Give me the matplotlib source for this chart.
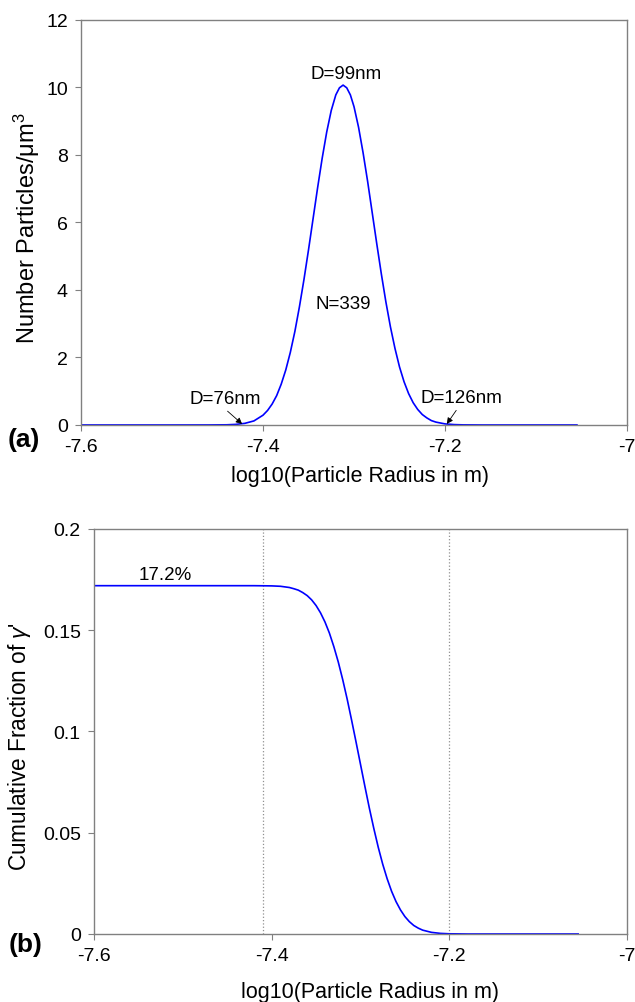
import numpy as np
import matplotlib
matplotlib.use('Agg')
import matplotlib.pyplot as plt

plt.rcParams['font.family'] = ['Liberation Sans', 'DejaVu Sans']
plt.rcParams['mathtext.fontset'] = 'custom'
plt.rcParams['mathtext.rm'] = 'Liberation Sans'
plt.rcParams['mathtext.it'] = 'Liberation Sans:italic'

# (a) number density vs log10 radius
log_r_a = [-7.6, -7.5, -7.46, -7.44, -7.43, -7.42, -7.41, -7.40, -7.395, -7.39,
           -7.385, -7.38, -7.375, -7.37, -7.365, -7.36, -7.355, -7.35, -7.345,
           -7.34, -7.335, -7.33, -7.325, -7.32, -7.316, -7.312, -7.308, -7.304,
           -7.30, -7.295, -7.29, -7.285, -7.28, -7.275, -7.27, -7.265, -7.26,
           -7.255, -7.25, -7.245, -7.24, -7.235, -7.23, -7.225, -7.22, -7.215,
           -7.21, -7.20, -7.19, -7.18, -7.16, -7.12, -7.055]
number = [0.0, 0.0, 0.001, 0.005, 0.017, 0.048, 0.12, 0.29, 0.43, 0.62,
          0.87, 1.21, 1.63, 2.15, 2.77, 3.50, 4.31, 5.19, 6.11,
          7.03, 7.90, 8.68, 9.32, 9.78, 9.99, 10.07, 9.99, 9.78,
          9.43, 8.82, 8.06, 7.21, 6.29, 5.37, 4.48, 3.65, 2.91,
          2.27, 1.72, 1.28, 0.93, 0.66, 0.46, 0.31, 0.21, 0.13,
          0.085, 0.032, 0.011, 0.003, 0.0, 0.0, 0.0]

# (b) cumulative fraction of gamma'
log_r_b = [-7.6, -7.5, -7.42, -7.40, -7.39, -7.385, -7.38, -7.375, -7.37, -7.365,
           -7.36, -7.355, -7.35, -7.345, -7.34, -7.335, -7.33, -7.325, -7.32,
           -7.315, -7.31, -7.305, -7.30, -7.295, -7.29, -7.285, -7.28, -7.275,
           -7.27, -7.265, -7.26, -7.255, -7.25, -7.245, -7.24, -7.235, -7.23,
           -7.22, -7.21, -7.20, -7.18, -7.15, -7.055]
cum_frac = [0.172, 0.172, 0.172, 0.1719, 0.1717, 0.1714, 0.1711, 0.1705, 0.1698, 0.1686,
            0.1671, 0.1650, 0.1622, 0.1586, 0.1541, 0.1486, 0.1419, 0.1343, 0.1256,
            0.1160, 0.1056, 0.0948, 0.0838, 0.0728, 0.0621, 0.0521, 0.0428, 0.0345,
            0.0273, 0.0211, 0.0160, 0.0119, 0.0086, 0.0061, 0.0042, 0.0029, 0.0019,
            0.0008, 0.0003, 0.0001, 0.0, 0.0, 0.0]

cut_lines = [-7.41, -7.20]

spine_col = '#808080'
blue = '#0000ff'

fig = plt.figure(figsize=(6.35, 10.03), dpi=100)
ax1 = fig.add_axes([0.1276, 0.5753, 0.8598, 0.4038])
ax2 = fig.add_axes([0.148, 0.0678, 0.8394, 0.4038])

for ax in (ax1, ax2):
    for s in ax.spines.values():
        s.set_color(spine_col)
        s.set_linewidth(1.0)
    ax.tick_params(direction='out', length=4.5, width=0.8, color=spine_col,
                   labelsize=14, pad=5, top=False, right=False)
    ax.set_xlim(-7.6, -7.0)
    ax.set_xticks([-7.6, -7.4, -7.2, -7.0])
    ax.set_xticklabels(['-7.6', '-7.4', '-7.2', '-7'])

ax1.set_xlabel('log10(Particle Radius in m)', fontsize=15.5, labelpad=7)
ax1.xaxis.label.set_x(0.511)
ax2.set_xlabel('log10(Particle Radius in m)', fontsize=15.5, labelpad=12)
ax2.xaxis.label.set_x(0.518)

# top panel
ax1.plot(log_r_a, number, color=blue, lw=1.2)
ax1.set_ylim(0, 12)
ax1.set_yticks(range(0, 13, 2))
ax1.set_ylabel('Number Particles/μm$^3$', fontsize=17, labelpad=3)
ax1.yaxis.label.set_y(0.488)
ax1.text(-7.309, 10.4, 'D=99nm', fontsize=13.5, ha='center', va='center')
ax1.text(-7.312, 3.61, 'N=339', fontsize=13.5, ha='center', va='center')
arr = dict(arrowstyle='-|>', color='k', lw=0.6, mutation_scale=9, shrinkA=1, shrinkB=0)
ax1.annotate('D=76nm', xy=(-7.423, 0.03), xytext=(-7.442, 0.77), fontsize=13.5,
             ha='center', va='center', arrowprops=dict(arr, relpos=(0.48, 0)))
ax1.annotate('D=126nm', xy=(-7.198, 0.03), xytext=(-7.182, 0.80), fontsize=13.5,
             ha='center', va='center', arrowprops=dict(arr, relpos=(0.47, 0)))

# bottom panel
for xv in cut_lines:
    ax2.axvline(xv, color='#909090', lw=0.9, ls=':')
ax2.plot(log_r_b, cum_frac, color=blue, lw=1.2)
ax2.set_ylim(0, 0.2)
ax2.set_yticks([0, 0.05, 0.1, 0.15, 0.2])
ax2.set_yticklabels(['0', '0.05', '0.1', '0.15', '0.2'])
ax2.set_ylabel("Cumulative Fraction of $\\gamma$'", fontsize=16.3, labelpad=7)
ax2.yaxis.label.set_y(0.466)
ax2.text(-7.520, 0.1773, '17.2%', fontsize=13.5, ha='center', va='center')

fig.text(0.038, 0.561, '(a)', fontsize=19, fontweight='bold', ha='center', va='center')
fig.text(0.040, 0.0578, '(b)', fontsize=19, fontweight='bold', ha='center', va='center')

plt.savefig('out.png', dpi=100)
